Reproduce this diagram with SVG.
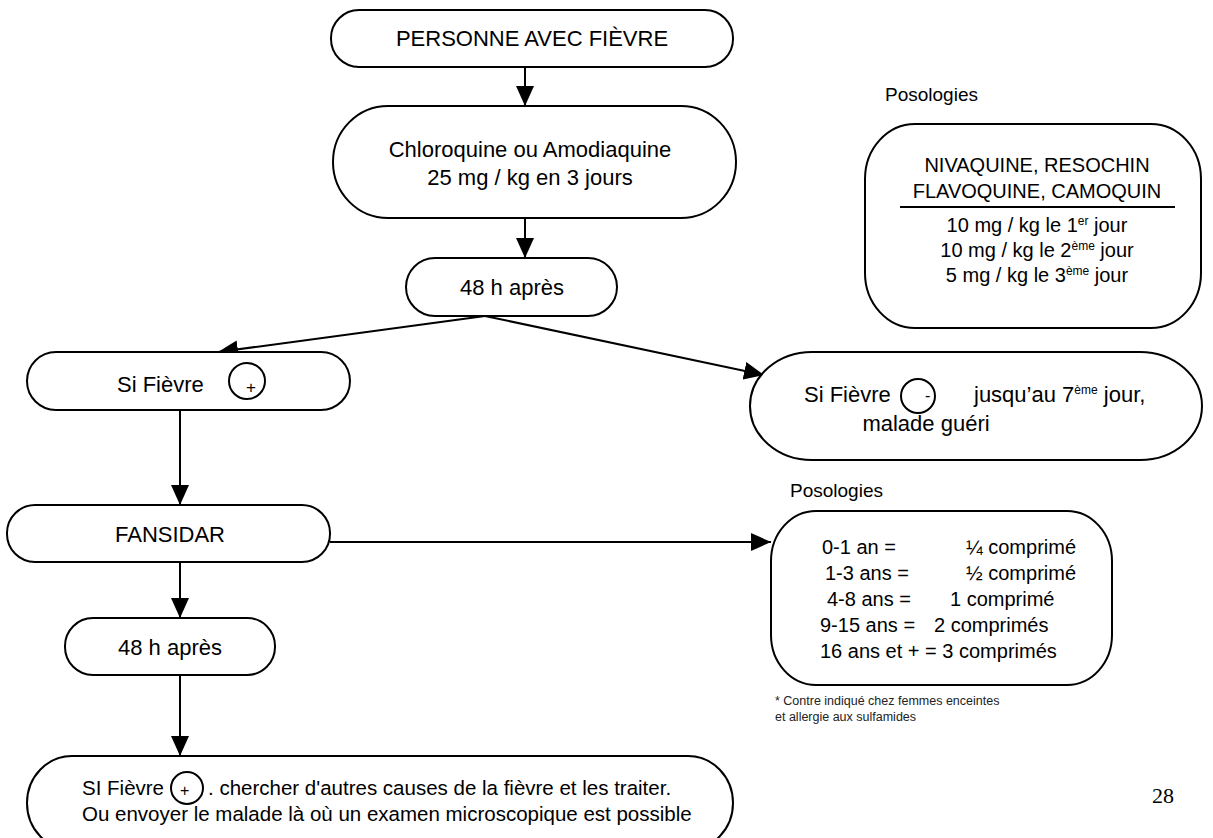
<svg xmlns="http://www.w3.org/2000/svg" width="1213" height="838" viewBox="0 0 1213 838">
<style>
.box{fill:#fff;stroke:#000;stroke-width:2}
.t{font-family:"Liberation Sans",Arial,sans-serif;font-size:22px;fill:#000}
.m{font-family:"Liberation Sans",Arial,sans-serif;font-size:20px;fill:#000}
.s{font-family:"Liberation Sans",Arial,sans-serif;font-size:19px;fill:#000}
.f{font-family:"Liberation Sans",Arial,sans-serif;font-size:12.5px;fill:#222}
.c{text-anchor:middle}
.sym{fill:none;stroke:#000;stroke-width:2}
.conn{stroke:#000;stroke-width:2;fill:none}
</style>
<defs>
<marker id="ah" markerUnits="userSpaceOnUse" markerWidth="20" markerHeight="18" refX="20" refY="9" orient="auto">
<path d="M0,0 L20,9 L0,18 z" fill="#000"/>
</marker>
</defs>
<rect width="1213" height="838" fill="#fff"/>

<g id="connectors">
<line class="conn" x1="525" y1="67" x2="525" y2="106" marker-end="url(#ah)"/>
<line class="conn" x1="525" y1="218" x2="525" y2="258" marker-end="url(#ah)"/>
<line class="conn" x1="485" y1="316" x2="218" y2="352" marker-end="url(#ah)"/>
<line class="conn" x1="485" y1="316" x2="764" y2="375" marker-end="url(#ah)"/>
<line class="conn" x1="180" y1="410" x2="180" y2="505" marker-end="url(#ah)"/>
<line class="conn" x1="330" y1="542" x2="771" y2="542" marker-end="url(#ah)"/>
<line class="conn" x1="180" y1="562" x2="180" y2="618" marker-end="url(#ah)"/>
<line class="conn" x1="180" y1="675" x2="180" y2="756" marker-end="url(#ah)"/>
</g>

<g id="n-personne">
<rect class="box" x="331" y="10" width="402" height="57" rx="28" ry="28"/>
<text class="t c" x="532" y="46">PERSONNE AVEC FIÈVRE</text>
</g>

<g id="n-chloroquine">
<rect class="box" x="333" y="106" width="403" height="112" rx="55" ry="56"/>
<text class="t c" x="530" y="157">Chloroquine ou Amodiaquine</text>
<text class="t c" x="530" y="185">25 mg / kg en 3 jours</text>
</g>

<g id="n-48h-1">
<rect class="box" x="406" y="258" width="211" height="58" rx="29" ry="29"/>
<text class="t c" x="512" y="295">48 h après</text>
</g>

<g id="n-fievre-plus">
<rect class="box" x="27" y="352" width="323" height="58" rx="29" ry="29"/>
<text class="t" x="117" y="392">Si Fièvre</text>
<circle class="sym" cx="247" cy="381" r="18"/>
<text class="t" x="246" y="393" style="font-size:17px">+</text>
</g>

<g id="n-fievre-moins">
<rect class="box" x="750" y="352" width="452" height="108" rx="62" ry="54"/>
<text class="t" x="804" y="402">Si Fièvre</text>
<circle class="sym" cx="918" cy="396" r="17"/>
<text class="t" x="925" y="401" style="font-size:16px">-</text>
<text class="t" x="974" y="402">jusqu’au 7<tspan dy="-8" style="font-size:12px">ème</tspan><tspan dy="8"> jour,</tspan></text>
<text class="t c" x="926" y="431">malade guéri</text>
</g>

<g id="n-posologies-1">
<text class="s" x="885" y="101">Posologies</text>
<rect class="box" x="865" y="124" width="336" height="204" rx="50" ry="55"/>
<text class="m c" x="1037" y="172">NIVAQUINE, RESOCHIN</text>
<text class="m c" x="1037" y="198">FLAVOQUINE, CAMOQUIN</text>
<line class="conn" x1="900" y1="207" x2="1175" y2="207"/>
<text class="m c" x="1037" y="232">10 mg / kg le 1<tspan dy="-7" style="font-size:12px">er</tspan><tspan dy="7"> jour</tspan></text>
<text class="m c" x="1037" y="257">10 mg / kg le 2<tspan dy="-7" style="font-size:12px">ème</tspan><tspan dy="7"> jour</tspan></text>
<text class="m c" x="1037" y="282">5 mg / kg le 3<tspan dy="-7" style="font-size:12px">ème</tspan><tspan dy="7"> jour</tspan></text>
</g>

<g id="n-fansidar">
<rect class="box" x="7" y="505" width="323" height="57" rx="28" ry="28"/>
<text class="t c" x="170" y="542">FANSIDAR</text>
</g>

<g id="n-posologies-2">
<text class="s" x="790" y="497">Posologies</text>
<rect class="box" x="771" y="511" width="341" height="174" rx="45" ry="50"/>
<text class="m" x="822" y="554">0-1 an =</text><text class="m" x="966" y="554">¼ comprimé</text>
<text class="m" x="825" y="580">1-3 ans =</text><text class="m" x="966" y="580">½ comprimé</text>
<text class="m" x="827" y="606">4-8 ans =</text><text class="m" x="950" y="606">1 comprimé</text>
<text class="m" x="820" y="632">9-15 ans =</text><text class="m" x="934" y="632">2 comprimés</text>
<text class="m" x="820" y="658">16 ans et + = 3 comprimés</text>
<text class="f" x="775" y="705">* Contre indiqué chez  femmes enceintes</text>
<text class="f" x="775" y="721">et allergie aux sulfamides</text>
</g>

<g id="n-48h-2">
<rect class="box" x="65" y="618" width="210" height="57" rx="28" ry="28"/>
<text class="t c" x="170" y="655">48 h après</text>
</g>

<g id="n-final">
<rect class="box" x="27" y="756" width="706" height="94" rx="45" ry="47"/>
<text class="t" x="82" y="795" style="font-size:20.5px">SI Fièvre</text>
<circle class="sym" cx="187" cy="788" r="16"/>
<text class="t" x="180" y="796" style="font-size:16px">+</text>
<text class="t" x="208" y="795" style="font-size:20.5px">. chercher d'autres causes de la fièvre et les traiter.</text>
<text class="t" x="82" y="821" style="font-size:20.5px">Ou envoyer le malade là où un examen microscopique est possible</text>
</g>

<text x="1152" y="803" style="font-family:'Liberation Serif','Times New Roman',serif;font-size:22px">28</text>
</svg>
